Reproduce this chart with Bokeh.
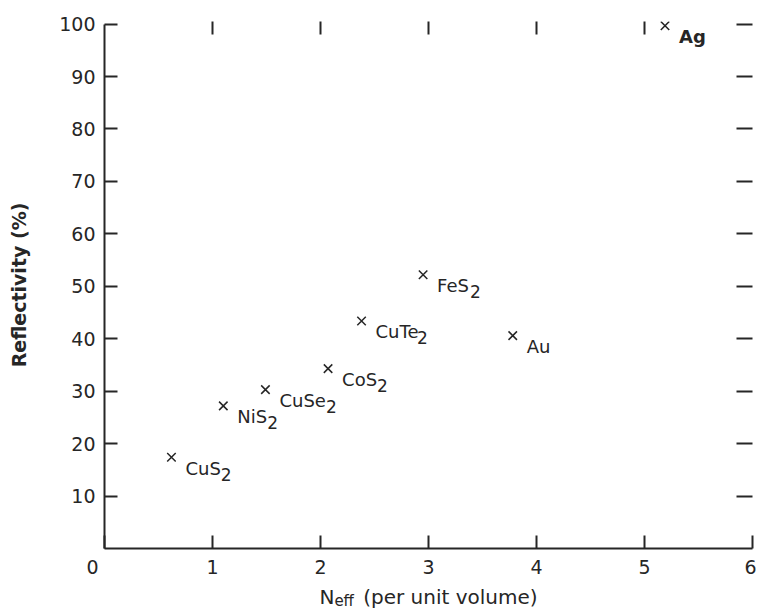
from bokeh.plotting import figure
from bokeh.layouts import column
from bokeh.models import ColumnDataSource, FixedTicker, LinearAxis, Range1d
from bokeh.embed import file_html
from bokeh.resources import INLINE
from bokeh.core.properties import value

# ---------------- data ----------------
compounds = ["CuS", "NiS", "CuSe", "CoS", "CuTe", "FeS", "Au", "Ag"]
subscripts = ["2", "2", "2", "2", "2", "2", "", ""]
n_eff = [0.62, 1.10, 1.49, 2.07, 2.38, 2.95, 3.78, 5.19]
reflectivity = [17.4, 27.2, 30.3, 34.3, 43.4, 52.2, 40.6, 99.7]

x_ticks = [0, 1, 2, 3, 4, 5, 6]
y_ticks = [10, 20, 30, 40, 50, 60, 70, 80, 90, 100]
top_ticks = [1, 2, 3, 4, 5]
x_title_main = "N"
x_title_sub = "eff"
x_title_rest = "(per unit volume)"
y_title = "Reflectivity (%)"

# ---------------- styling ----------------
INK = "#262626"
FONT = "DejaVu Sans"
LBL_PX = 18
TICK_PX = 19
TITLE_PX = 20

# DejaVu Sans advance widths (em units) and a kerning pair, for offset computation
W = {"C": .698, "u": .634, "S": .635, "N": .748, "i": .278, "e": .615, "o": .612,
     "T": .611, "F": .575, "A": .684, "g": .635, "f": .352, "(": .390, ")": .390,
     "p": .635, "r": .411, " ": .318, "n": .634, "t": .392, "v": .592, "l": .278,
     "m": .974, "2": .636}
KERN = {"Te": -0.25}


def text_width(s, px):
    w = sum(W.get(c, .6) for c in s)
    w += sum(KERN.get(s[i:i + 2], 0) for i in range(len(s) - 1))
    return w * px


def tick_only_axis(ticks, tick_len):
    ax = LinearAxis(ticker=FixedTicker(ticks=ticks))
    ax.axis_line_color = None
    ax.major_tick_in = tick_len
    ax.major_tick_out = 0
    ax.major_tick_line_width = 2
    ax.major_tick_line_color = INK
    ax.minor_tick_line_color = None
    ax.major_label_overrides = {t: "" for t in ticks}
    ax.major_label_text_font_size = "1px"
    ax.major_label_standoff = 0
    return ax


x_range = Range1d(0, 6)
p = figure(width=756, height=580,
           x_range=x_range, y_range=Range1d(0, 100.5),
           output_backend="svg", toolbar_location=None,
           min_border_left=104, min_border_right=4,
           min_border_top=21, min_border_bottom=31)
p.outline_line_color = None
p.xgrid.visible = False
p.ygrid.visible = False

# bottom axis ("0" sits left of the corner, as in the original)
xa = p.xaxis[0]
xa.ticker = FixedTicker(ticks=x_ticks)
xa.bounds = (0, 6)
xa.axis_line_width = 2
xa.axis_line_color = INK
xa.major_tick_in = 13
xa.major_tick_out = 0
xa.major_tick_line_width = 2
xa.major_tick_line_color = INK
xa.minor_tick_line_color = None
xa.major_label_text_font = FONT
xa.major_label_text_font_size = f"{TICK_PX}px"
xa.major_label_text_color = INK
xa.major_label_standoff = 7
xa.major_label_overrides = {0: "0" + "\u00a0" * 4}

# left axis
ya = p.yaxis[0]
ya.ticker = FixedTicker(ticks=y_ticks)
ya.bounds = (0, 100)
ya.axis_line_width = 2
ya.axis_line_color = INK
ya.major_tick_in = 13
ya.major_tick_out = 0
ya.major_tick_line_width = 2
ya.major_tick_line_color = INK
ya.minor_tick_line_color = None
ya.major_label_text_font = FONT
ya.major_label_text_font_size = f"{TICK_PX}px"
ya.major_label_text_color = INK
ya.major_label_standoff = 9
ya.axis_label = y_title
ya.axis_label_text_font = FONT
ya.axis_label_text_font_size = "19px"
ya.axis_label_text_font_style = "bold"
ya.axis_label_text_color = INK
ya.axis_label_standoff = 26

# top and right: inward tick marks only
p.add_layout(tick_only_axis(top_ticks, 13), "above")
p.add_layout(tick_only_axis(y_ticks, 16), "right")

# points
src = ColumnDataSource(dict(
    x=n_eff, y=reflectivity, name=compounds, sub=subscripts,
    style=["bold" if c == "Ag" else "normal" for c in compounds],
    sub_dx=[14 + text_width(c, LBL_PX) for c in compounds],
))
p.scatter("x", "y", source=src, marker="x", size=12, line_width=1.5, color=INK)

p.text("x", "y", text="name", source=src, x_offset=14, y_offset=11,
       text_font=value(FONT), text_font_size=f"{LBL_PX}px",
       text_font_style="style", text_color=INK,
       text_align="left", text_baseline="middle")
p.text("x", "y", text="sub", source=src, x_offset="sub_dx", y_offset=17,
       text_font=value(FONT), text_font_size=f"{LBL_PX - 1}px",
       text_color=INK, text_align="left", text_baseline="middle")

# ---------------- x axis title strip (N_eff with subscript) ----------------
p2 = figure(width=756, height=32, x_range=x_range, y_range=Range1d(0, 1),
            output_backend="svg", toolbar_location=None,
            x_axis_location=None, y_axis_location=None,
            min_border_left=104, min_border_right=4,
            min_border_top=0, min_border_bottom=0)
p2.outline_line_color = None
p2.xgrid.visible = False
p2.ygrid.visible = False

SUB_PX = 15
w_main = text_width(x_title_main, TITLE_PX)
w_sub = text_width(x_title_sub, SUB_PX)
w_rest = text_width(x_title_rest, TITLE_PX)
gap = 9
total = w_main + w_sub + gap + w_rest
start = -total / 2
x_mid = (x_range.start + x_range.end) / 2

title_src = ColumnDataSource(dict(
    x=[x_mid, x_mid, x_mid], y=[1, 1, 1],
    text=[x_title_main, x_title_sub, x_title_rest],
    dx=[start, start + w_main, start + w_main + w_sub + gap],
    dy=[16, 20, 16],
    size=[f"{TITLE_PX}px", f"{SUB_PX}px", f"{TITLE_PX}px"],
))
p2.text("x", "y", text="text", source=title_src, x_offset="dx", y_offset="dy",
        text_font=value(FONT), text_font_size="size", text_color=INK,
        text_align="left", text_baseline="alphabetic")

layout = column(p, p2, spacing=0)
open("out.html", "w").write(file_html(layout, INLINE))
